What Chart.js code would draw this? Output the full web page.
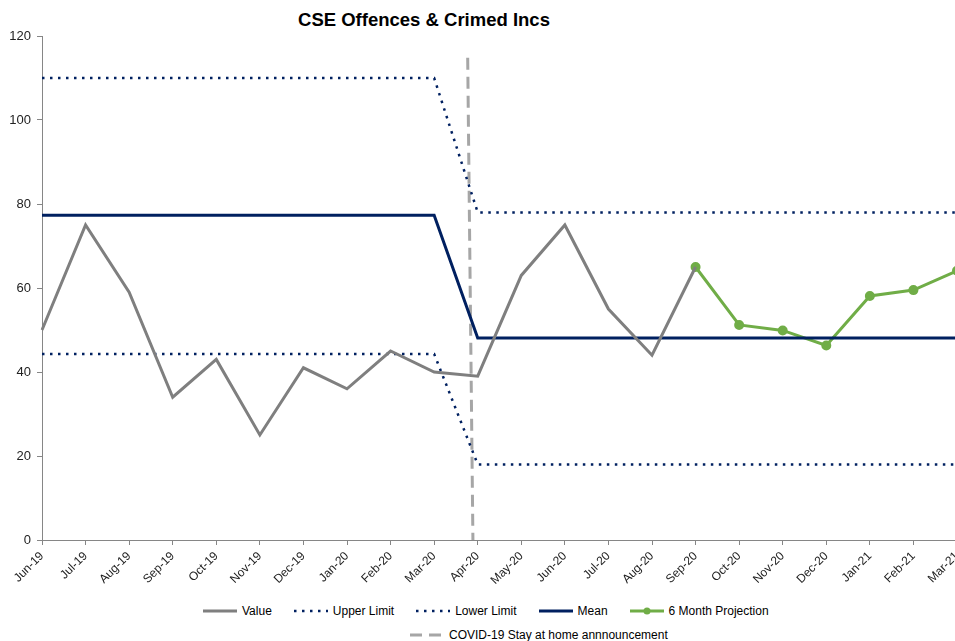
<!DOCTYPE html>
<html>
<head>
<meta charset="utf-8">
<script src="https://cdn.jsdelivr.net/npm/chart.js@4.4.1/dist/chart.umd.min.js"></script>
<style>
    html, body { margin: 0; padding: 0; background: #fff; overflow: hidden; }
    body { width: 955px; height: 641px; position: relative; font-family: "Liberation Sans", Arial, sans-serif; }
    #chartTitle {
        position: absolute; left: 0; top: 9px; width: 848px; text-align: center;
        font-weight: bold; font-size: 18.5px; line-height: 22px; color: #000;
    }
    #chartWrap { position: absolute; left: 0; top: 0; width: 975px; height: 600px; }
    .legend-row { position: absolute; display: flex; align-items: center; font-size: 12px; line-height: 16px; color: #000; white-space: nowrap; }
    .legend-item { display: flex; align-items: center; margin-right: 22px; }
    .legend-item svg { margin-right: 5px; }
</style>
</head>
<body>
<div id="chartTitle">CSE Offences &amp; Crimed Incs</div>
<div id="chartWrap"><canvas id="cseChart"></canvas></div>
<div id="legendRow1" class="legend-row" style="left:203px; top:603px;"></div>
<div id="legendRow2" class="legend-row" style="left:410px; top:627px;"></div>
<script>
// Month labels along the x axis
var months = ['Jun-19', 'Jul-19', 'Aug-19', 'Sep-19', 'Oct-19', 'Nov-19', 'Dec-19', 'Jan-20', 'Feb-20', 'Mar-20',
    'Apr-20', 'May-20', 'Jun-20', 'Jul-20', 'Aug-20', 'Sep-20', 'Oct-20', 'Nov-20', 'Dec-20', 'Jan-21', 'Feb-21', 'Mar-21'];

var valueSeries = [50, 75, 59, 34, 43, 25, 41, 36, 45, 40, 39, 63, 75, 55, 44, 65,
    null, null, null, null, null, null];

var upperLimit = [110, 110, 110, 110, 110, 110, 110, 110, 110, 110,
    78, 78, 78, 78, 78, 78, 78, 78, 78, 78, 78, 78];

var lowerLimit = [44.3, 44.3, 44.3, 44.3, 44.3, 44.3, 44.3, 44.3, 44.3, 44.3,
    18, 18, 18, 18, 18, 18, 18, 18, 18, 18, 18, 18];

var meanLine = [77.3, 77.3, 77.3, 77.3, 77.3, 77.3, 77.3, 77.3, 77.3, 77.3,
    48.1, 48.1, 48.1, 48.1, 48.1, 48.1, 48.1, 48.1, 48.1, 48.1, 48.1, 48.1];

var projection = [null, null, null, null, null, null, null, null, null, null, null, null, null, null, null,
    65, 51.2, 49.9, 46.3, 58.1, 59.5, 64.1];

// Stay-at-home marker, placed on a hidden numeric axis that spans the month indices
var covidMarker = [{ x: 9.77, y: 114.8 }, { x: 9.89, y: 0 }];

var yTicks = { min: 0, max: 120, step: 20 };

var navy = '#002060';
var axisGrey = '#868686';

var buildLegend = function (chart) {
    var rows = [document.getElementById('legendRow1'), document.getElementById('legendRow2')];
    rows[0].innerHTML = '';
    rows[1].innerHTML = '';
    chart.data.datasets.forEach(function (ds, i) {
        var dash = ds.borderDash ? ds.borderDash.join(',') : 'none';
        var dot = ds.pointRadius ? '<circle cx="17" cy="5" r="3.5" fill="' + ds.borderColor + '"/>' : '';
        var item = document.createElement('div');
        item.className = 'legend-item';
        item.innerHTML = '<svg width="34" height="10"><line x1="0" y1="5" x2="34" y2="5" stroke="' + ds.borderColor +
            '" stroke-width="' + ds.borderWidth + '" stroke-dasharray="' + dash + '"/>' + dot + '</svg><span>' + ds.label + '</span>';
        rows[i < 5 ? 0 : 1].appendChild(item);
    });
};

var config = {
    type: 'line',
    data: {
        labels: months,
        datasets: [
            {
                label: 'Value',
                data: valueSeries,
                borderColor: '#7f7f7f',
                backgroundColor: '#7f7f7f',
                borderWidth: 3,
                pointRadius: 0,
                tension: 0
            },
            {
                label: 'Upper Limit',
                data: upperLimit,
                borderColor: navy,
                backgroundColor: navy,
                borderWidth: 2.5,
                borderDash: [2.5, 5.5],
                pointRadius: 0
            },
            {
                label: 'Lower Limit',
                data: lowerLimit,
                borderColor: navy,
                backgroundColor: navy,
                borderWidth: 2.5,
                borderDash: [2.5, 5.5],
                pointRadius: 0
            },
            {
                label: 'Mean',
                data: meanLine,
                borderColor: navy,
                backgroundColor: navy,
                borderWidth: 3,
                pointRadius: 0
            },
            {
                label: '6 Month Projection',
                data: projection,
                borderColor: '#70ad47',
                backgroundColor: '#70ad47',
                borderWidth: 3,
                pointRadius: 3.5,
                pointHoverRadius: 3.5
            },
            {
                label: 'COVID-19 Stay at home annnouncement',
                data: covidMarker,
                xAxisID: 'xc',
                borderColor: '#a6a6a6',
                backgroundColor: '#a6a6a6',
                borderWidth: 3,
                borderDash: [12, 7],
                pointRadius: 0,
                order: 5
            }
        ]
    },
    options: {
        responsive: true,
        maintainAspectRatio: false,
        animation: false,
        layout: {
            padding: { top: 36, right: 18, bottom: 0, left: 0 }
        },
        plugins: {
            legend: { display: false },
            title: { display: false },
            tooltip: { enabled: false }
        },
        scales: {
            x: {
                offset: false,
                grid: { drawOnChartArea: false, drawTicks: true, tickLength: 5, color: axisGrey, offset: false },
                border: { color: axisGrey, width: 1 },
                ticks: {
                    autoSkip: false,
                    maxRotation: 45,
                    minRotation: 45,
                    padding: 4,
                    color: '#222',
                    font: { family: '"Liberation Sans", Arial, sans-serif', size: 12 }
                },
                afterFit: function (scale) { scale.height = 60; }
            },
            xc: {
                type: 'linear',
                display: false,
                min: 0,
                max: months.length - 1
            },
            y: {
                min: yTicks.min,
                max: yTicks.max,
                grid: { drawOnChartArea: false, drawTicks: true, tickLength: 5, color: axisGrey },
                border: { color: axisGrey, width: 1 },
                ticks: {
                    stepSize: yTicks.step,
                    padding: 6,
                    color: '#222',
                    font: { family: '"Liberation Sans", Arial, sans-serif', size: 13 }
                },
                afterFit: function (scale) { scale.width = 42; }
            }
        }
    }
};

var ctx = document.getElementById('cseChart').getContext('2d');
var cseChart = new Chart(ctx, config);
buildLegend(cseChart);
</script>
</body>
</html>
